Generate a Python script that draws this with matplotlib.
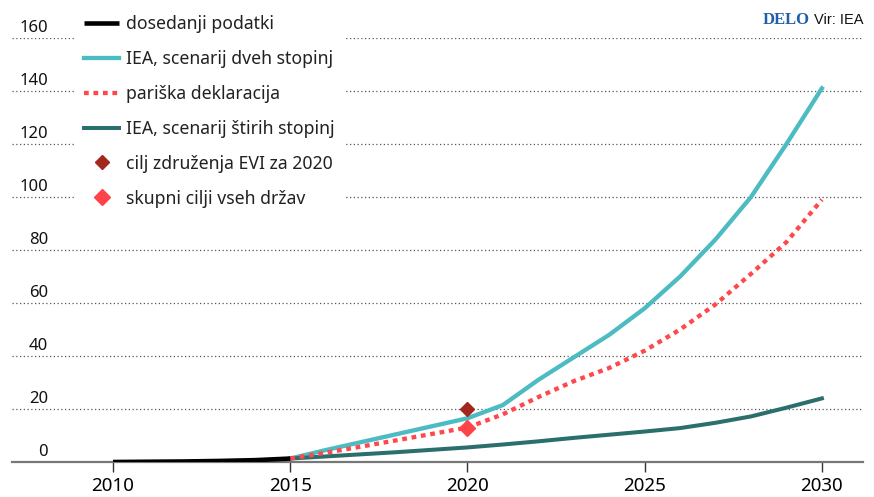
import matplotlib
matplotlib.use('Agg')
from matplotlib import pyplot as plt
from matplotlib import transforms

# data (million electric vehicles)
hist_years = [2010, 2011, 2012, 2013, 2014, 2015]
hist_vals = [0.0, 0.1, 0.2, 0.4, 0.7, 1.3]

proj_years = [2015, 2016, 2017, 2018, 2019, 2020, 2021, 2022, 2023, 2024,
              2025, 2026, 2027, 2028, 2029, 2030]
iea_2deg = [1.3, 4.5, 7.5, 10.5, 13.5, 16.5, 21.5, 31, 39.5, 48,
            58, 70, 84, 100, 120, 141]
paris = [1.3, 3.5, 5.8, 8.2, 10.6, 13, 18, 24.5, 30.5, 35.5,
         42, 50, 59.5, 71, 83, 99]
iea_4deg = [1.3, 2.1, 2.9, 3.7, 4.6, 5.5, 6.6, 7.8, 9.1, 10.3,
            11.5, 12.8, 14.8, 17.2, 20.5, 24]

evi_year, evi_val = [2020], [20]
states_year, states_val = [2020], [13]

labels = ['dosedanji podatki', 'IEA, scenarij dveh stopinj', 'pariška deklaracija',
          'IEA, scenarij štirih stopinj', 'cilj združenja EVI za 2020',
          'skupni cilji vseh držav']
yticks = [20, 40, 60, 80, 100, 120, 140, 160]
xticks = [2010, 2015, 2020, 2025, 2030]

fig = plt.figure(figsize=(8.74, 4.97), dpi=100)
ax = fig.add_axes([12/874, 35/497, 851/874, 424/497])
ax.set_xlim(2007.15, 2031.16)
ax.set_ylim(0, 160)

for y in yticks:
    ax.axhline(y, color='#555555', lw=0.9, linestyle=(0, (1, 2)), zorder=1)

l1, = ax.plot(hist_years, hist_vals, color='black', lw=3.3, solid_capstyle='butt', zorder=5, label=labels[0])
l2, = ax.plot(proj_years, iea_2deg, color='#4dbcc2', lw=3.1, zorder=3, label=labels[1])
l3, = ax.plot(proj_years, paris, color='#ff474c', lw=3.1, linestyle=(0, (1.1, 1.1)), zorder=4, label=labels[2])
l4, = ax.plot(proj_years, iea_4deg, color='#2b6f6d', lw=2.9, zorder=3, label=labels[3])
m1, = ax.plot(evi_year, evi_val, 'D', color='#a3261f', ms=7, ls='none', zorder=6, label=labels[4])
m2, = ax.plot(states_year, states_val, 'D', color='#ff4449', ms=8, ls='none', zorder=6, label=labels[5])

for s in ['top', 'right', 'left']:
    ax.spines[s].set_visible(False)
ax.spines['bottom'].set_color('#777777')
ax.spines['bottom'].set_linewidth(1.6)

ax.set_yticks([])
ax.set_xticks(xticks)
ax.set_xticklabels([str(x) for x in xticks], fontfamily='Noto Sans', fontsize=13.5)
ax.tick_params(axis='x', direction='out', length=7.5, width=1, color='#333333', pad=3)

off = transforms.offset_copy(ax.transData, fig=fig, y=2, units='dots')
for y in [0] + yticks:
    ax.text(2008.17, y, str(y), transform=off, ha='right', va='bottom',
            fontfamily='Noto Sans', fontsize=12, color='#111111')

leg = ax.legend(handles=[l1, l2, l3, l4, m1, m2], loc='upper left',
                bbox_to_anchor=(76/874, 1 - 7/497), bbox_transform=fig.transFigure,
                prop={'family': 'Noto Sans', 'size': 12.7}, frameon=True,
                facecolor='white', edgecolor='white', framealpha=1, fancybox=False,
                borderpad=0.45, labelspacing=0.96, handlelength=2.0, handletextpad=0.4,
                numpoints=1, borderaxespad=0)
leg.set_zorder(10)
for t in leg.get_texts():
    t.set_color('#222222')

fig.text(810/874, 1 - 20/497, 'DELO', ha='right', va='center', color='#1f5ea8',
         fontfamily='Liberation Serif', fontweight='bold', fontsize=12)
fig.text(863/874, 1 - 20/497, 'Vir: IEA', ha='right', va='center', color='#111111',
         fontfamily='Liberation Sans', fontsize=10.5)

fig.savefig('out.png', dpi=100)
